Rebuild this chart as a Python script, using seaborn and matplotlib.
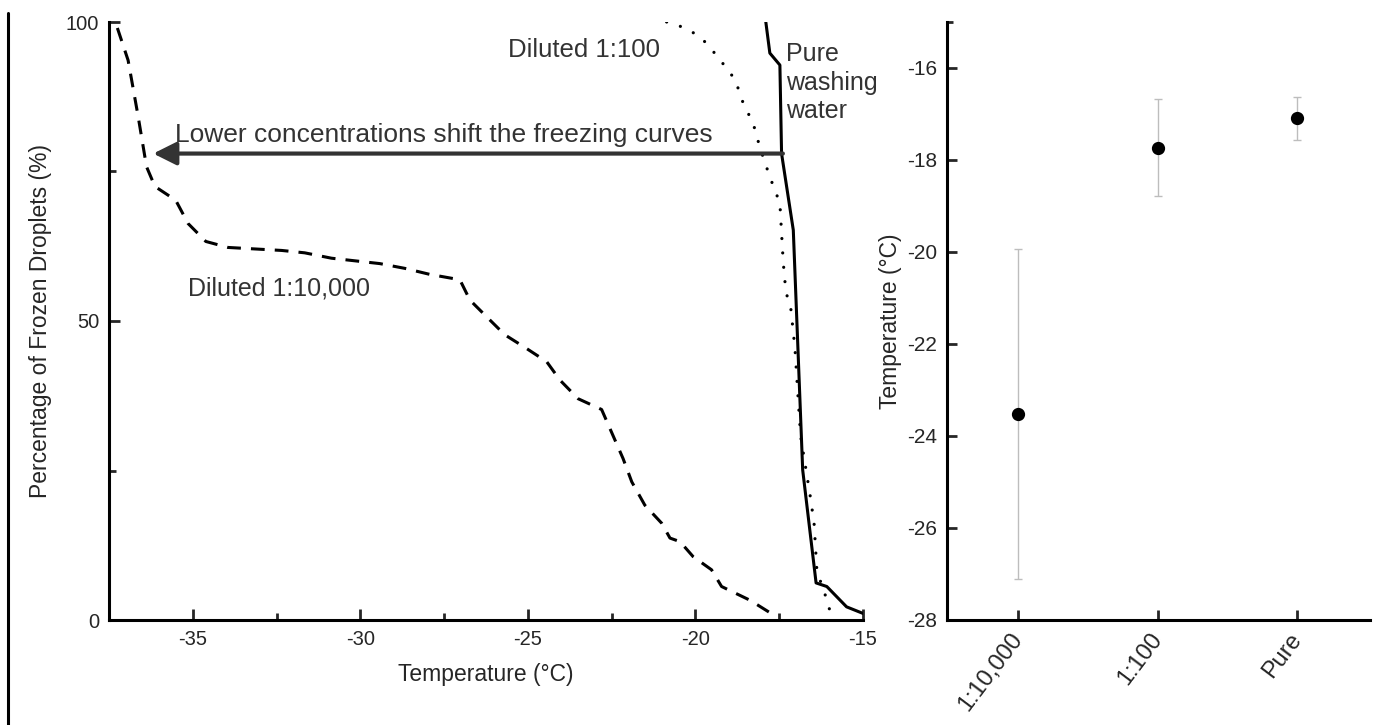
import numpy as np
import pandas as pd
import matplotlib
matplotlib.use("Agg")
import matplotlib.pyplot as plt
from matplotlib.lines import Line2D
import seaborn as sns

# ---- freezing curves (temperature in °C, frozen droplets in %) ----
t_dil_10000 = [-37.25, -36.93, -36.63, -36.38, -36.13, -35.51, -35.14, -34.61, -33.95,
               -32.35, -31.66, -30.86, -29.42, -28.67, -27.93, -27.03, -26.73, -26.23,
               -25.69, -25.04, -24.44, -24.04, -23.5, -22.8, -22.16, -21.90, -21.51,
               -21.01, -20.76, -20.46, -20.07, -19.52, -19.22, -18.37, -17.57]
pct_dil_10000 = [99.0, 93.6, 84.2, 75.8, 72.5, 70.2, 66.3, 63.3, 62.3,
                 61.8, 61.4, 60.5, 59.6, 58.8, 57.8, 56.9, 53.5, 50.7,
                 47.7, 45.4, 43.2, 40.1, 37.0, 35.2, 27.0, 23.1, 19.2,
                 16.2, 13.7, 13.1, 10.6, 8.4, 5.6, 3.3, 0.5]

t_dil_100 = [-20.86, -20.41, -19.96, -19.62, -19.35, -19.07, -18.80, -18.67, -18.52,
             -18.30, -18.07, -17.78, -17.48, -17.43, -17.38, -17.30, -17.16, -17.03,
             -16.92, -16.86, -16.58, -16.46, -16.38, -16.26, -16.11, -15.99]
pct_dil_100 = [100.0, 99.2, 97.9, 96.2, 94.2, 92.3, 90.2, 87.9, 85.6,
               83.5, 78.9, 74.1, 69.7, 64.7, 59.8, 54.8, 52.4, 45.4,
               35.7, 30.7, 20.9, 16.2, 8.6, 6.3, 3.9, 1.6]

t_pure = [-17.90, -17.78, -17.48, -17.43, -17.08, -16.80, -16.40, -16.08, -15.49, -15.0]
pct_pure = [100.0, 94.8, 92.8, 78.0, 65.2, 25.1, 6.2, 5.6, 2.2, 1.1]

# ---- median freezing temperatures ----
conc_labels = ['1:10,000', '1:100', 'Pure']
temp_mean = [-23.52, -17.73, -17.09]
temp_err = [3.58, 1.06, 0.47]

sns.set_style("ticks")
plt.rcParams['font.family'] = ['Liberation Sans', 'DejaVu Sans']
plt.rcParams['axes.unicode_minus'] = False

W, H = 1375, 725
fig = plt.figure(figsize=(W / 100, H / 100), dpi=100)
ax1 = fig.add_axes([109 / W, 105 / H, 754 / W, 598 / H])
ax2 = fig.add_axes([946.7 / W, 105 / H, 423.3 / W, 598 / H])

# left panel: freezing curves
sns.lineplot(x=t_dil_10000, y=pct_dil_10000, ax=ax1, sort=False, estimator=None,
             color='black', lw=2.2, linestyle=(0, (4.5, 3.3)))
sns.lineplot(x=t_dil_100, y=pct_dil_100, ax=ax1, sort=False, estimator=None,
             color='black', lw=2.3, linestyle=(0, (0.01, 4.5)), dash_capstyle='round')
sns.lineplot(x=t_pure, y=pct_pure, ax=ax1, sort=False, estimator=None,
             color='black', lw=2.2)

ax1.set_xlim(-37.5, -15)
ax1.set_ylim(0, 100)
ax1.set_xticks([-35, -30, -25, -20, -15])
ax1.set_xticks([-32.5, -27.5, -22.5, -17.5], minor=True)
ax1.set_yticks([0, 50, 100])
ax1.set_yticks([25, 75], minor=True)
ax1.tick_params(which='major', direction='in', length=8, width=2, labelsize=14.5, pad=7)
ax1.tick_params(which='minor', direction='in', length=5, width=2)
ax1.set_xlabel('Temperature (°C)', fontsize=16.5)
ax1.set_ylabel('Percentage of Frozen Droplets (%)', fontsize=16.5)
ax1.xaxis.set_label_coords(0.5, -0.072)
ax1.yaxis.set_label_coords(-0.0756, 0.5)

ax1.annotate('', xy=(-36.18, 78), xytext=(-17.39, 78),
             arrowprops=dict(arrowstyle='-|>,head_length=1.0,head_width=0.5',
                             color='#333333', lw=3, shrinkA=0, shrinkB=0,
                             mutation_scale=14))
ax1.text(-35.54, 80.0, 'Lower concentrations shift the freezing curves',
         fontsize=19, color='#333333', va='baseline', ha='left')
ax1.text(-35.15, 54.3, 'Diluted 1:10,000', fontsize=18, color='#333333',
         va='baseline', ha='left')
ax1.text(-21.06, 94.2, 'Diluted 1:100', fontsize=18.5, color='#333333',
         va='baseline', ha='right')
for word, yb in zip(['Pure', 'washing', 'water'], [93.4, 88.6, 83.9]):
    ax1.text(-17.30, yb, word, fontsize=18, color='#333333', va='baseline', ha='left')

# right panel: mean freezing temperature
df_t = pd.DataFrame({'conc': conc_labels, 'temp': temp_mean})
ax2.errorbar(range(len(conc_labels)), temp_mean, yerr=temp_err, fmt='none',
             ecolor='#bdbdbd', elinewidth=1, capsize=3, capthick=1, zorder=1)
sns.pointplot(data=df_t, x='conc', y='temp', ax=ax2, errorbar=None, color='black',
              marker='o', linestyle='none', markersize=7.5, markeredgecolor='black')
ax2.set_xlim(-0.51, 2.52)
ax2.set_ylim(-28, -15)
ax2.set_yticks(np.arange(-28, -15, 2))
ax2.set_yticks([-15], minor=True)
ax2.tick_params(which='major', direction='in', length=7, width=2, labelsize=15, pad=7)
ax2.tick_params(which='minor', direction='in', length=4, width=2)
ax2.tick_params(axis='x', pad=11, labelsize=17)
plt.setp(ax2.get_xticklabels(), rotation=53, ha='right', va='center',
         rotation_mode='anchor')
ax2.set_xlabel('')
ax2.set_ylabel('Temperature (°C)', fontsize=16.5)
ax2.yaxis.set_label_coords(-0.105, 0.5)

for ax in (ax1, ax2):
    sns.despine(ax=ax)
    for side in ('left', 'bottom'):
        ax.spines[side].set_linewidth(2.2)
        ax.spines[side].set_color('black')

# thin frame line at the left edge of the figure
fig.add_artist(Line2D([7.5 / W, 7.5 / W], [0, 1 - 13 / H], color='black', lw=2.2,
                      transform=fig.transFigure))

fig.savefig('out.png', dpi=100, facecolor='white')
